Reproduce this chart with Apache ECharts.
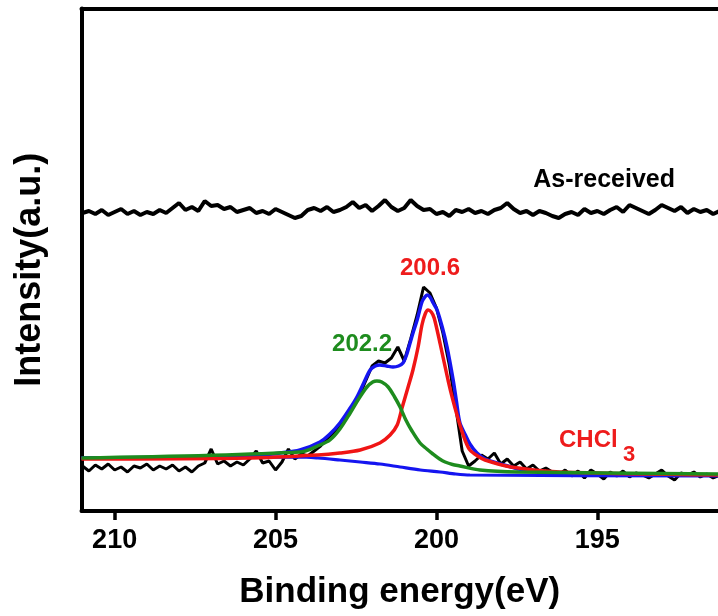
<!DOCTYPE html>
<html>
<head>
<meta charset="utf-8">
<script src="https://cdn.jsdelivr.net/npm/echarts@6/dist/echarts.min.js"></script>
<style>
    html, body { margin: 0; padding: 0; background: #fff; }
    #main { width: 718px; height: 616px; }
</style>
</head>
<body>
<div id="main"></div>
<script>
// 坐标轴刻度
const tickValues = [210, 205, 200, 195];

// 原始谱线的能量网格 (eV)
const gridStart = 211.0;
const gridStep = 0.2;

// As-received 谱线 (无峰)
const asReceived = [
    298, 300, 297, 301, 296, 299, 302, 297, 300, 296,
    299, 297, 301, 298, 303, 308, 301, 304, 300, 310,
    305, 306, 302, 304, 299, 301, 303, 298, 300, 297,
    302, 299, 296, 293, 295, 301, 303, 300, 304, 299,
    301, 304, 309, 303, 306, 300, 305, 311, 304, 300,
    303, 311, 305, 301, 302, 297, 299, 295, 301, 299,
    302, 298, 300, 297, 301, 303, 308, 302, 298, 300,
    296, 300, 298, 295, 293, 297, 299, 296, 302, 298,
    300, 297, 301, 304, 299, 306, 303, 300, 297, 301,
    306, 303, 300, 304, 298, 302, 299, 301, 297, 300
];

// CHCl3 处理后的原始谱线
const chcl3Raw = [
    45, 40, 46, 42, 47, 41, 44, 39, 45, 43,
    47, 41, 45, 42, 46, 40, 44, 39, 45, 48,
    62, 47, 50, 45, 49, 46, 52, 60, 48, 50,
    41, 49, 62, 52, 57, 55, 60, 65, 72, 78,
    86, 94, 104, 115, 130, 145, 150, 148, 153, 164,
    150, 172, 196, 224, 218, 203, 178, 146, 104, 60,
    45, 50, 56, 52, 58, 47, 52, 45, 49, 42,
    46, 40, 43, 39, 36, 41, 35, 40, 33, 41,
    37, 32, 39, 35, 40, 34, 38, 36, 33, 37,
    41, 35, 31, 38, 36, 39, 34, 37, 33, 36
];

// 拟合曲线 [能量, 强度]
const envelopeFit = [
    [211.03, 53], [207.35, 54], [205.79, 55], [204.86, 58], [204.24, 61], [203.62, 69],
    [203.31, 77], [203.00, 88], [202.68, 103], [202.47, 114], [202.26, 128], [202.06, 141],
    [201.90, 145], [201.76, 146], [201.55, 145], [201.35, 144], [201.18, 145], [201.04, 148],
    [200.93, 156], [200.82, 168], [200.71, 180], [200.60, 191], [200.45, 209], [200.36, 214],
    [200.29, 216], [200.20, 214], [200.10, 208], [199.98, 201], [199.82, 184], [199.67, 164],
    [199.48, 131], [199.38, 110], [199.27, 88], [199.10, 76], [198.96, 67], [198.74, 58],
    [198.49, 52], [198.33, 50], [197.68, 44], [197.46, 42], [196.16, 38], [194.00, 37], [191.25, 36]
];
const backgroundFit = [
    [211.03, 53], [204.24, 54], [203.68, 53], [203.00, 51], [202.37, 49], [201.75, 47],
    [201.13, 44], [200.50, 41], [199.89, 39], [199.40, 37], [198.96, 36], [191.25, 35]
];
const peak2006Fit = [
    [211.03, 52], [205.79, 53], [203.68, 56], [203.00, 58], [202.37, 61], [201.76, 68],
    [201.44, 76], [201.22, 86], [201.07, 103], [200.88, 124], [200.73, 141], [200.57, 164],
    [200.45, 186], [200.35, 197], [200.26, 201], [200.16, 199], [200.07, 193], [199.89, 168],
    [199.64, 131], [199.48, 110], [199.27, 86], [199.10, 70], [198.96, 61], [198.72, 55],
    [198.49, 51], [197.68, 44], [196.16, 39], [191.25, 36]
];
const peak2022Fit = [
    [211.03, 53], [204.24, 59], [203.62, 66], [203.31, 71], [203.00, 82], [202.68, 98],
    [202.40, 113], [202.16, 124], [201.98, 129], [201.85, 130], [201.70, 129], [201.50, 124],
    [201.30, 114], [201.13, 104], [200.95, 91], [200.76, 80], [200.51, 68], [200.30, 62],
    [200.11, 57], [199.90, 52], [199.73, 49], [199.50, 46.5], [199.27, 45], [198.65, 41],
    [197.46, 39], [191.25, 37]
];

// 文字标注 [文字, 能量, 强度, 颜色, 字号]
const annotations = [
    ['As-received', 194.79, 331, '#000000', 25],
    ['200.6', 200.20, 243, '#ee1c1c', 24],
    ['202.2', 202.31, 167, '#1e8c1e', 24]
];

const fontFamily = '"Liberation Sans", Arial, sans-serif';

// 原始谱线配上能量
function withEnergy(values) {
    return values.map((v, i) => [+(gridStart - i * gridStep).toFixed(2), v]);
}

const chart = echarts.init(document.getElementById('main'), null, { renderer: 'canvas' });

const xMin = 191.25, xMax = 211.03;

const option = {
    animation: false,
    backgroundColor: '#fff',
    grid: { left: 81.5, right: 0, top: 8.5, bottom: 105 },
    xAxis: [
        {
            type: 'value',
            inverse: true,
            min: xMin,
            max: xMax,
            name: 'Binding energy(eV)',
            nameLocation: 'middle',
            nameGap: 64,
            nameTextStyle: { fontSize: 35, fontWeight: 'bold', color: '#000', fontFamily: fontFamily },
            axisLine: { onZero: false, lineStyle: { color: '#000', width: 4 } },
            axisTick: { show: true, length: 9, lineStyle: { color: '#000', width: 3.5 }, customValues: tickValues },
            axisLabel: {
                customValues: tickValues,
                margin: 16,
                fontSize: 27,
                fontWeight: 'bold',
                color: '#000',
                fontFamily: fontFamily
            },
            splitLine: { show: false }
        },
        {
            // 顶部边框
            type: 'value',
            position: 'top',
            inverse: true,
            min: xMin,
            max: xMax,
            axisLine: { onZero: false, lineStyle: { color: '#000', width: 4 } },
            axisTick: { show: false },
            axisLabel: { show: false },
            splitLine: { show: false }
        }
    ],
    yAxis: {
        type: 'value',
        min: 0,
        max: 502.5,
        name: 'Intensity(a.u.)',
        nameLocation: 'middle',
        nameGap: 33,
        nameTextStyle: {
            fontSize: 36, fontWeight: 'bold', color: '#000', fontFamily: fontFamily,
            padding: [0, 20, 0, 0]
        },
        axisLine: { show: true, onZero: false, lineStyle: { color: '#000', width: 4 } },
        axisTick: { show: false },
        axisLabel: { show: false },
        splitLine: { show: false }
    },
    series: [
        {
            name: 'As-received',
            type: 'line',
            data: withEnergy(asReceived),
            showSymbol: false,
            lineStyle: { color: '#000', width: 4 },
            z: 2
        },
        {
            name: 'CHCl3',
            type: 'line',
            data: withEnergy(chcl3Raw),
            showSymbol: false,
            lineStyle: { color: '#000', width: 3 },
            z: 2
        },
        {
            name: 'background',
            type: 'line',
            data: backgroundFit,
            showSymbol: false,
            smooth: 0.3,
            lineStyle: { color: '#1515f0', width: 3.2 },
            z: 3
        },
        {
            name: 'envelope',
            type: 'line',
            data: envelopeFit,
            showSymbol: false,
            smooth: 0.3,
            lineStyle: { color: '#1515f0', width: 3.5 },
            z: 3
        },
        {
            name: '200.6',
            type: 'line',
            data: peak2006Fit,
            showSymbol: false,
            smooth: 0.3,
            lineStyle: { color: '#f01515', width: 3.5 },
            z: 4
        },
        {
            name: '202.2',
            type: 'line',
            data: peak2022Fit,
            showSymbol: false,
            smooth: 0.3,
            lineStyle: { color: '#1e8c1e', width: 3.5 },
            z: 5
        }
    ]
};

chart.setOption(option);

// 标注文字按数据坐标放置
const texts = annotations.map(a => {
    const p = chart.convertToPixel({ seriesIndex: 0 }, [a[1], a[2]]);
    return {
        type: 'text',
        x: p[0],
        y: p[1],
        z: 10,
        style: {
            text: a[0],
            fill: a[3],
            font: 'bold ' + a[4] + 'px ' + fontFamily,
            align: 'center',
            verticalAlign: 'middle'
        }
    };
});

// CHCl3 标签，下标单独放
const chclPos = chart.convertToPixel({ seriesIndex: 0 }, [196.19, 71]);
const subPos = chart.convertToPixel({ seriesIndex: 0 }, [194.20, 56]);
texts.push({
    type: 'text', x: chclPos[0], y: chclPos[1], z: 10,
    style: { text: 'CHCl', fill: '#ee1c1c', font: 'bold 24px ' + fontFamily, align: 'left', verticalAlign: 'middle' }
});
texts.push({
    type: 'text', x: subPos[0], y: subPos[1], z: 10,
    style: { text: '3', fill: '#ee1c1c', font: 'bold 22px ' + fontFamily, align: 'left', verticalAlign: 'middle' }
});

chart.setOption({ graphic: texts });
</script>
</body>
</html>
